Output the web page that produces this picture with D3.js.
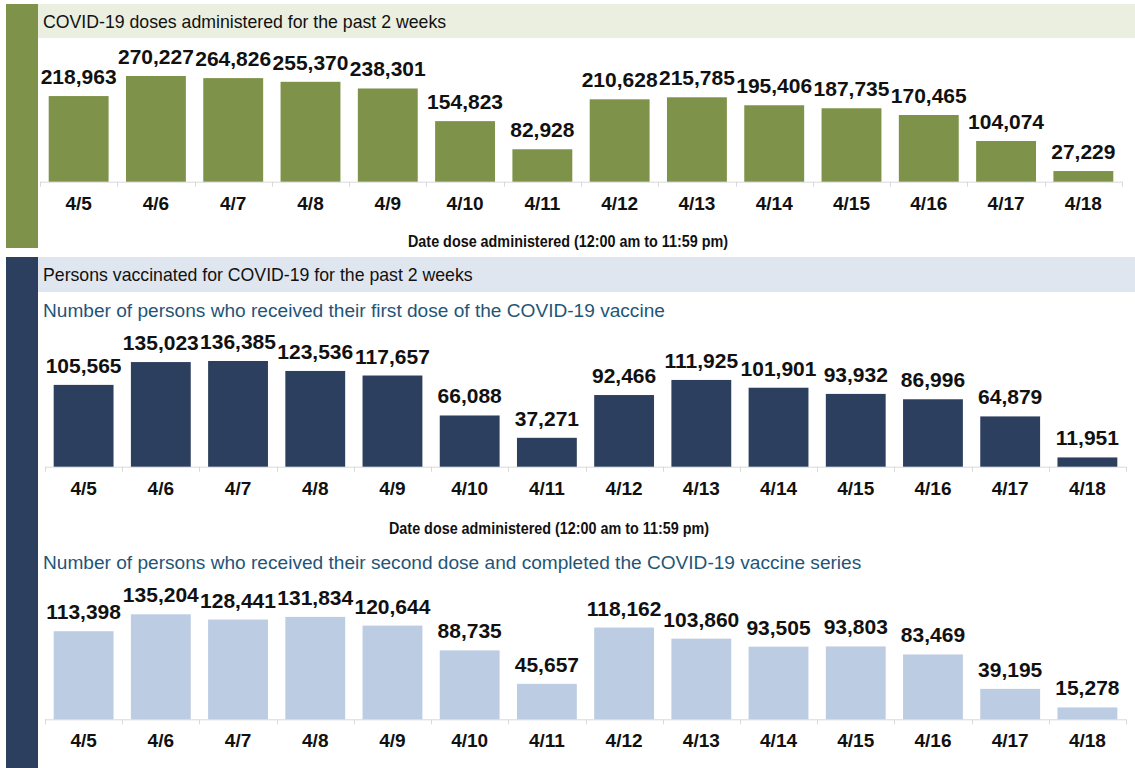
<!DOCTYPE html>
<html>
<head>
<meta charset="utf-8">
<script src="https://cdn.jsdelivr.net/npm/d3@7/dist/d3.min.js"></script>
<style>
  html, body { margin: 0; padding: 0; background: #ffffff; }
  svg { display: block; }
</style>
</head>
<body>
<svg id="chart" width="1135" height="768"></svg>
<script>
// ---- Data ----
const dates = ["4/5","4/6","4/7","4/8","4/9","4/10","4/11","4/12","4/13","4/14","4/15","4/16","4/17","4/18"];
const dosesAdministered = [218963,270227,264826,255370,238301,154823,82928,210628,215785,195406,187735,170465,104074,27229];
const firstDose = [105565,135023,136385,123536,117657,66088,37271,92466,111925,101901,93932,86996,64879,11951];
const secondDose = [113398,135204,128441,131834,120644,88735,45657,118162,103860,93505,93803,83469,39195,15278];

const header1 = "COVID-19 doses administered for the past 2 weeks";
const header2 = "Persons vaccinated for COVID-19 for the past 2 weeks";
const subtitle1 = "Number of persons who received their first dose of the COVID-19 vaccine";
const subtitle2 = "Number of persons who received their second dose and completed the COVID-19 vaccine series";
const axisTitle = "Date dose administered (12:00 am to 11:59 pm)";

// ---- Styles ----
const GREEN = "#7f9249";
const NAVY = "#2c3f5e";
const LIGHT = "#bccce2";
const FONT = "'Liberation Sans', Arial, sans-serif";

const svg = d3.select("#chart");
const fmt = d3.format(",");

// Section decorations
svg.append("rect").attr("x", 6).attr("y", 4).attr("width", 32).attr("height", 244).attr("fill", GREEN);
svg.append("rect").attr("x", 38).attr("y", 4).attr("width", 1097).attr("height", 34).attr("fill", "#ebefdf");
svg.append("text").attr("x", 43).attr("y", 28).attr("font-family", FONT).attr("font-size", 17.7)
  .attr("fill", "#111").text(header1);

svg.append("rect").attr("x", 6).attr("y", 257).attr("width", 32).attr("height", 511).attr("fill", NAVY);
svg.append("rect").attr("x", 38).attr("y", 257).attr("width", 1097).attr("height", 35).attr("fill", "#dfe6ef");
svg.append("text").attr("x", 43).attr("y", 281).attr("font-family", FONT).attr("font-size", 17.7)
  .attr("fill", "#111").text(header2);

svg.append("text").attr("x", 43).attr("y", 317).attr("font-family", FONT).attr("font-size", 19.1)
  .attr("fill", "#1f5577").text(subtitle1);
svg.append("text").attr("x", 43).attr("y", 569).attr("font-family", FONT).attr("font-size", 19.1)
  .attr("fill", "#1f5577").text(subtitle2);

function drawChart(values, color, x0, x1, baseline, yMax, yTop, titleX, titleY) {
  const g = svg.append("g");
  const x = d3.scaleBand().domain(dates).range([x0, x1]).paddingInner(0.225).paddingOuter(0.1125);
  const y = d3.scaleLinear().domain([0, yMax]).range([baseline, yTop]);

  // axis line and boundary ticks
  g.append("line").attr("x1", x0).attr("x2", x1).attr("y1", baseline + 0.5).attr("y2", baseline + 0.5)
    .attr("stroke", "#d9d9d9").attr("stroke-width", 1);
  const step = x.step();
  g.selectAll("line.tk").data(d3.range(dates.length + 1)).join("line").attr("class", "tk")
    .attr("x1", i => Math.round(x0 + i * step) + 0.5).attr("x2", i => Math.round(x0 + i * step) + 0.5)
    .attr("y1", baseline).attr("y2", baseline + 5)
    .attr("stroke", "#d9d9d9").attr("stroke-width", 1);

  // bars
  g.selectAll("rect.bar").data(values).join("rect").attr("class", "bar")
    .attr("x", (d, i) => x(dates[i]))
    .attr("width", x.bandwidth())
    .attr("y", d => y(d))
    .attr("height", d => baseline - y(d))
    .attr("fill", color);

  // value labels
  g.selectAll("text.val").data(values).join("text").attr("class", "val")
    .attr("x", (d, i) => x(dates[i]) + x.bandwidth() / 2)
    .attr("y", d => y(d) - 12)
    .attr("text-anchor", "middle")
    .attr("font-family", FONT).attr("font-weight", "bold").attr("font-size", 21)
    .attr("fill", "#111").text(d => fmt(d));

  // tick labels
  g.selectAll("text.cat").data(dates).join("text").attr("class", "cat")
    .attr("x", d => x(d) + x.bandwidth() / 2)
    .attr("y", baseline + 28)
    .attr("text-anchor", "middle")
    .attr("font-family", FONT).attr("font-weight", "bold").attr("font-size", 19)
    .attr("fill", "#111").text(d => d);

  if (titleY) {
    g.append("text").attr("x", titleX).attr("y", titleY).attr("text-anchor", "middle")
      .attr("font-family", FONT).attr("font-weight", "bold").attr("font-size", 16)
      .attr("textLength", 320).attr("lengthAdjust", "spacingAndGlyphs")
      .attr("fill", "#111").text(axisTitle);
  }
}

drawChart(dosesAdministered, GREEN, 40, 1122, 181.7, 300000, 64.35, 568, 247);
drawChart(firstDose, NAVY, 45, 1126, 466.7, 150000, 350.45, 549, 534);
drawChart(secondDose, LIGHT, 45, 1126, 719.3, 150000, 602.8, null, null);
</script>
</body>
</html>
